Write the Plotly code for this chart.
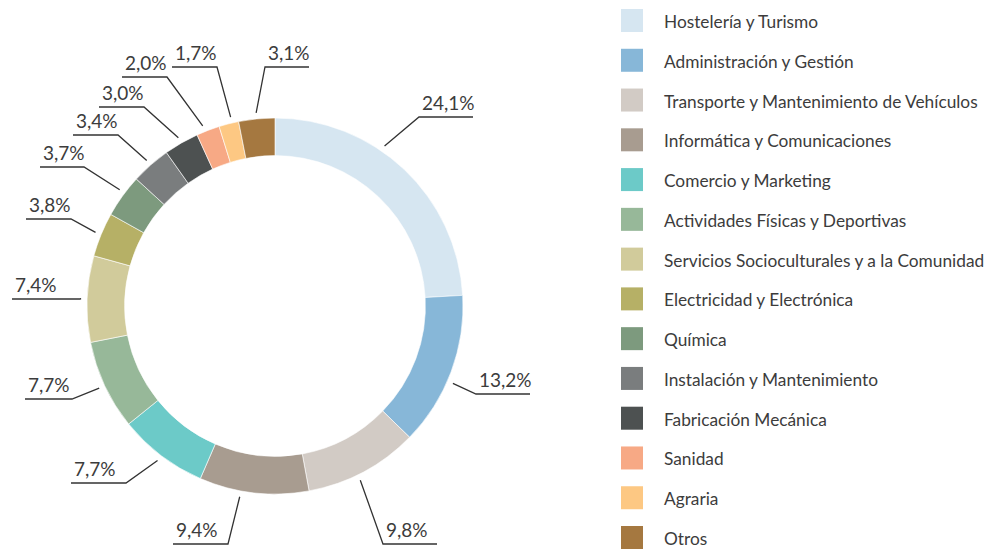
import math
import plotly.graph_objects as go

# ---- data ----
categories = [
    "Hostelería y Turismo",
    "Administración y Gestión",
    "Transporte y Mantenimiento de Vehículos",
    "Informática y Comunicaciones",
    "Comercio y Marketing",
    "Actividades Físicas y Deportivas",
    "Servicios Socioculturales y a la Comunidad",
    "Electricidad y Electrónica",
    "Química",
    "Instalación y Mantenimiento",
    "Fabricación Mecánica",
    "Sanidad",
    "Agraria",
    "Otros",
]
values = [24.1, 13.2, 9.8, 9.4, 7.7, 7.7, 7.4, 3.8, 3.7, 3.4, 3.0, 2.0, 1.7, 3.1]
colors = [
    "#d6e6f1", "#87b7d8", "#d2cbc5", "#a89c90", "#6ccac8", "#97b899", "#d1cb9b",
    "#b6b066", "#7d9a7e", "#7a7d7e", "#4d5151", "#f7a985", "#fdc883", "#a57840",
]

# ---- layout constants (pixels in the 992x551 window) ----
OFF = 8                      # page body margin in the browser
W, H = 992 - OFF, 551 - OFF  # figure size
CX, CY, R = 275, 306, 188
FONT = "Lato, Roboto, sans-serif"
TXT = "#3c3c3c"

def px(x):
    return (x - OFF) / W

def py(y):
    return 1 - (y - OFF) / H

# label layout: angle shift (deg) for the leader start, elbow point and
# horizontal line extent (in pixels)
LEADER_R = 194
angle_shift = [-9, 3, 2, 4, 0, 0, 0, 0, 1, 0, 0, -1, 1, 0]
elbows = [(419, 117), (476, 394), (383, 544), (228, 544), (126, 483), (72, 399),
          (80, 299), (71, 219), (84, 167), (118, 135), (144, 107), (167, 77),
          (217, 67), (265, 67)]
hlines = [(419, 473), (476, 530), (383, 437), (173, 228), (71, 126), (25, 72),
          (12, 80), (26, 71), (40, 84), (73, 118), (99, 144), (122, 167),
          (172, 217), (265, 309)]

fig = go.Figure()
fig.add_trace(go.Pie(
    labels=categories,
    values=values,
    marker=dict(colors=colors, line=dict(color="white", width=0.6)),
    hole=0.8,
    sort=False,
    direction="clockwise",
    rotation=0,
    textinfo="none",
    hoverinfo="label+percent",
    showlegend=False,
    domain=dict(x=[px(CX - R), px(CX + R)], y=[py(CY + R), py(CY - R)]),
))

shapes = []
annotations = []
total = sum(values)
cum = 0.0
for i, v in enumerate(values):
    mid = (cum + v / 2) / total * 360 + angle_shift[i]
    cum += v
    a = math.radians(mid)
    sx = CX + LEADER_R * math.sin(a)
    sy = CY - LEADER_R * math.cos(a)
    ex, ey = elbows[i]
    x0, x1 = hlines[i]
    far = x1 if ex <= x0 + 1 else x0
    path = f"M {px(sx)} {py(sy)} L {px(ex)} {py(ey)} L {px(far)} {py(ey)}"
    shapes.append(dict(type="path", xref="paper", yref="paper", path=path,
                       line=dict(color="#333333", width=1.3)))
    label = f"{v:.1f}%".replace(".", ",")
    annotations.append(dict(
        x=px(x0 + 1), y=py(ey - 1), xref="paper", yref="paper",
        xanchor="left", yanchor="bottom", showarrow=False, text=label,
        font=dict(family=FONT, size=19, color=TXT),
    ))

# manual legend
LEG_X, LEG_Y0, LEG_STEP, SQ_W, SQ_H = 621, 20.5, 39.77, 22, 23
for i, (cat, col) in enumerate(zip(categories, colors)):
    cy = LEG_Y0 + i * LEG_STEP
    shapes.append(dict(type="rect", xref="paper", yref="paper",
                       x0=px(LEG_X), x1=px(LEG_X + SQ_W),
                       y0=py(cy + SQ_H / 2), y1=py(cy - SQ_H / 2),
                       fillcolor=col, line=dict(width=0)))
    annotations.append(dict(
        x=px(662), y=py(cy + 1), xref="paper", yref="paper",
        xanchor="left", yanchor="middle", showarrow=False, text=cat,
        font=dict(family=FONT, size=17.3, color=TXT),
    ))

fig.update_layout(
    width=W, height=H,
    margin=dict(l=0, r=0, t=0, b=0),
    paper_bgcolor="white",
    plot_bgcolor="white",
    shapes=shapes,
    annotations=annotations,
    showlegend=False,
)

fig.write_html("out.html")
